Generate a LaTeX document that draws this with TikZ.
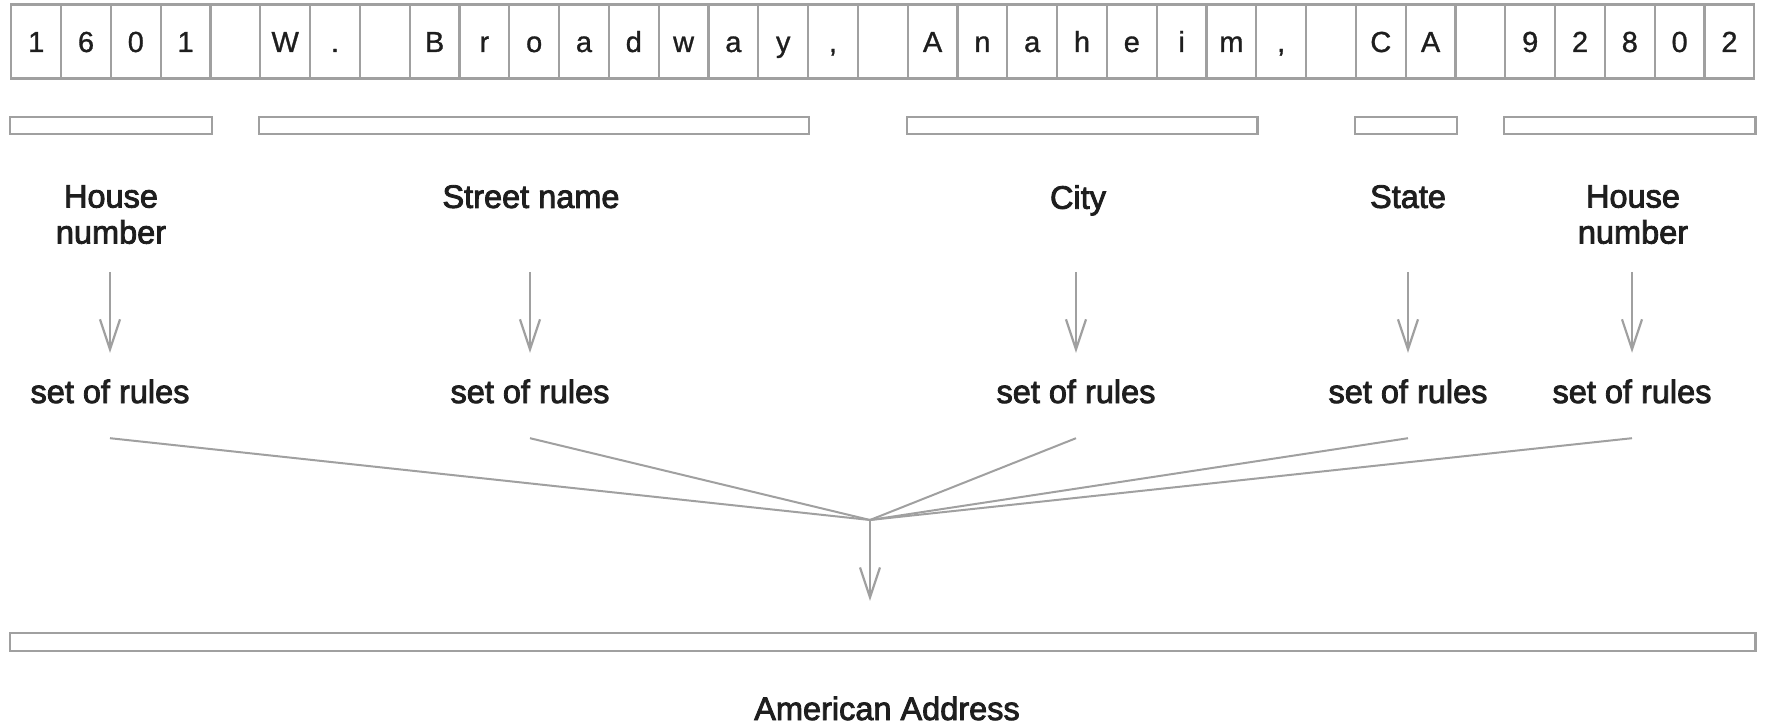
\documentclass[tikz,border=0pt]{standalone}
\usepackage{fontspec}
\setmainfont{Liberation Sans}
\newfontfamily\labelfont[FakeBold=2.6]{Liberation Sans}
\newfontfamily\cellfont[FakeBold=1]{Liberation Sans}
\usetikzlibrary{arrows.meta,fit}
\definecolor{rulegray}{RGB}{160,160,160}
\definecolor{ink}{RGB}{30,30,30}
\begin{document}
\begin{tikzpicture}[x=1pt,y=-1pt,
  cell/.style={draw=rulegray, line width=2.2pt, minimum width=49.8pt,
    minimum height=74pt, inner sep=0pt, text=ink,
    font=\cellfont\fontsize{29}{29}\selectfont, text height=21pt, text depth=0pt},
  bracket/.style={draw=rulegray, line width=2.2pt, inner sep=0pt},
  lab/.style={inner sep=0pt, align=center, text=ink,
    font=\labelfont\fontsize{32.5}{36}\selectfont},
  rules/.style={inner sep=0pt, text=ink, anchor=base,
    font=\labelfont\fontsize{32.5}{36}\selectfont,
    text height=25pt, text depth=7pt},
  arr/.style={draw=rulegray, line width=2.2pt,
    -{Straight Barb[length=30pt,width=20pt]}},
  link/.style={draw=rulegray, line width=2pt}]
\useasboundingbox (0,0) rectangle (1765,727);

% one cell per character of the address
\foreach \ch [count=\i] in {1,6,0,1,{},W,{.},{},B,r,o,a,d,w,a,y,{,},{},A,n,a,h,e,i,m,{,},{},C,A,{},9,2,8,0,2}
  \node[cell] (c\i) at ({11.3+49.8*(\i-0.5)},41.5) {\ch};

% brackets under each field
\node[bracket, fit={(c1.west |- 0,117) (c4.east |- 0,134)}] (b1) {};
\node[bracket, fit={(c6.west |- 0,117) (c16.east |- 0,134)}] (b2) {};
\node[bracket, fit={(c19.west |- 0,117) (c25.east |- 0,134)}] (b3) {};
\node[bracket, fit={(c28.west |- 0,117) (c29.east |- 0,134)}] (b4) {};
\node[bracket, fit={(c31.west |- 0,117) (c35.east |- 0,134)}] (b5) {};

% field names
\node[lab, anchor=north] (l1) at (111,185) {House\\number};
\node[lab, anchor=north] (l2) at (531,185) {Street name};
\node[lab, anchor=north] (l3) at (1078,185) {City};
\node[lab, anchor=north] (l4) at (1408,185) {State};
\node[lab, anchor=north] (l5) at (1633,185) {House\\number};

% rule sets
\node[rules] (r1) at (110,403) {set of rules};
\node[rules] (r2) at (530,403) {set of rules};
\node[rules] (r3) at (1076,403) {set of rules};
\node[rules] (r4) at (1408,403) {set of rules};
\node[rules] (r5) at (1632,403) {set of rules};

\coordinate (top) at (0,272);
\foreach \k in {1,...,5}
  \draw[arr] (r\k.north |- top) -- ([yshift=25pt]r\k.north);

% merge point
\coordinate (hub) at (870,520);
\foreach \k in {1,...,5}
  \draw[link] ([yshift=-28pt]r\k.south) -- (hub);

% complete address
\node[bracket, fit={(c1.west |- 0,633) (c35.east |- 0,651)}] (addr) {};
\draw[arr, shorten >=31pt] (hub) -- (addr.north -| hub);

\node[lab, anchor=base] (title) at (887,720) {American Address};
\end{tikzpicture}
\end{document}
